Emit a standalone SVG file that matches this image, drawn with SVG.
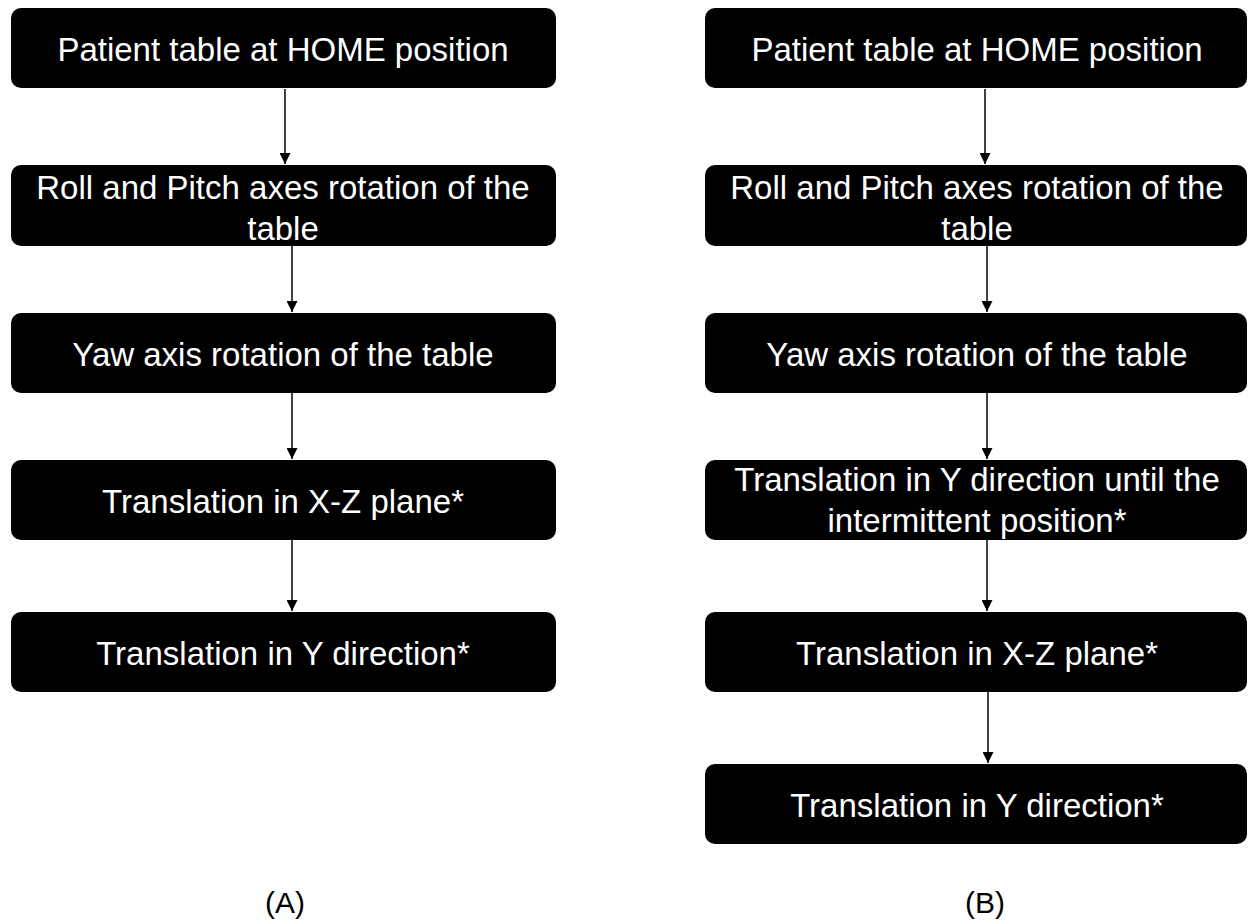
<svg xmlns="http://www.w3.org/2000/svg" width="1249" height="922" viewBox="0 0 1249 922">
<defs>
<style>
.box{fill:#000;}
.t{font-family:"Liberation Sans",Arial,sans-serif;font-size:33px;fill:#fff;text-anchor:middle;}
.lbl{font-family:"Liberation Sans",Arial,sans-serif;font-size:30px;fill:#000;text-anchor:middle;}
.c{stroke:#000;stroke-width:1.5;fill:none;marker-end:url(#ah);}
</style>
<marker id="ah" viewBox="0 0 10 10" refX="10" refY="5" markerWidth="11" markerHeight="11" markerUnits="userSpaceOnUse" orient="auto">
<path d="M0,0 L10,5 L0,10 z" fill="#000"/>
</marker>
</defs>
<rect width="1249" height="922" fill="#fff"/>
<g id="connectors">
<line class="c" x1="285" y1="89" x2="285" y2="164"/>
<line class="c" x1="292" y1="246" x2="292" y2="312"/>
<line class="c" x1="292" y1="393" x2="292" y2="459"/>
<line class="c" x1="292" y1="540" x2="292" y2="611"/>
<line class="c" x1="985" y1="89" x2="985" y2="164"/>
<line class="c" x1="987" y1="246" x2="987" y2="312"/>
<line class="c" x1="987" y1="393" x2="987" y2="459"/>
<line class="c" x1="987" y1="540" x2="987" y2="611"/>
<line class="c" x1="988" y1="692" x2="988" y2="763"/>
</g>
<g id="a1"><rect class="box" x="11" y="8" width="545" height="80" rx="10"/><text class="t" x="283" y="61">Patient table at HOME position</text></g>
<g id="a2"><rect class="box" x="11" y="165" width="545" height="81" rx="10"/><text class="t" x="283" y="199">Roll and Pitch axes rotation of the</text><text class="t" x="283" y="240">table</text></g>
<g id="a3"><rect class="box" x="11" y="313" width="545" height="80" rx="10"/><text class="t" x="283" y="366">Yaw axis rotation of the table</text></g>
<g id="a4"><rect class="box" x="11" y="460" width="545" height="80" rx="10"/><text class="t" x="283" y="513">Translation in X-Z plane*</text></g>
<g id="a5"><rect class="box" x="11" y="612" width="545" height="80" rx="10"/><text class="t" x="283" y="665">Translation in Y direction*</text></g>
<g id="b1"><rect class="box" x="705" y="8" width="542" height="80" rx="10"/><text class="t" x="977" y="61">Patient table at HOME position</text></g>
<g id="b2"><rect class="box" x="705" y="165" width="542" height="81" rx="10"/><text class="t" x="977" y="199">Roll and Pitch axes rotation of the</text><text class="t" x="977" y="240">table</text></g>
<g id="b3"><rect class="box" x="705" y="313" width="542" height="80" rx="10"/><text class="t" x="977" y="366">Yaw axis rotation of the table</text></g>
<g id="b4"><rect class="box" x="705" y="460" width="542" height="80" rx="10"/><text class="t" x="977" y="491">Translation in Y direction until the</text><text class="t" x="977" y="532">intermittent position*</text></g>
<g id="b5"><rect class="box" x="705" y="612" width="542" height="80" rx="10"/><text class="t" x="977" y="665">Translation in X-Z plane*</text></g>
<g id="b6"><rect class="box" x="705" y="764" width="542" height="80" rx="10"/><text class="t" x="977" y="817">Translation in Y direction*</text></g>
<text class="lbl" x="285" y="913">(A)</text>
<text class="lbl" x="985" y="913">(B)</text>
</svg>
